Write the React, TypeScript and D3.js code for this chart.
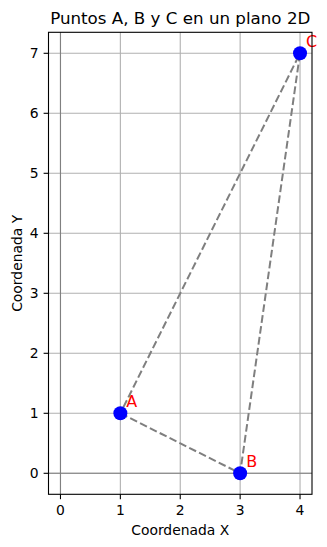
import React from "react";
import * as d3 from "d3";

const labels = ["A", "B", "C"];
const xs = [1, 3, 4];
const ys = [1, 0, 7];
const xTicks = [0, 1, 2, 3, 4];
const yTicks = [0, 1, 2, 3, 4, 5, 6, 7];

const W = 327, H = 547;
const L = 48.5, R = 312, T = 32.3, B = 494.3;
const font = "DejaVu Sans, sans-serif";

export default function App() {
  const x = d3.scaleLinear().domain([-0.2, 4.2]).range([L, R]);
  const y = d3.scaleLinear().domain([-0.35, 7.35]).range([B, T]);
  const pts = labels.map((l, i) => ({ l, x: xs[i], y: ys[i] }));
  const poly = d3.line<{ x: number; y: number }>().x(d => x(d.x)).y(d => y(d.y));
  const closed = [...pts, pts[0]];
  return (
    <svg width={W} height={H} style={{ position: "absolute", left: 0, top: 0 }} fontFamily={font}>
      <rect x={0} y={0} width={W} height={H} fill="#fff" />
      {xTicks.map(t => (
        <line key={"gx" + t} x1={x(t)} x2={x(t)} y1={T} y2={B} stroke="#b0b0b0" strokeWidth={1.1} />
      ))}
      {yTicks.map(t => (
        <line key={"gy" + t} x1={L} x2={R} y1={y(t)} y2={y(t)} stroke="#b0b0b0" strokeWidth={1.1} />
      ))}
      <line x1={L} x2={R} y1={y(0)} y2={y(0)} stroke="#808080" strokeWidth={1.1} />
      <line x1={x(0)} x2={x(0)} y1={T} y2={B} stroke="#808080" strokeWidth={1.1} />
      <path d={poly(closed) || ""} fill="none" stroke="#7f7f7f" strokeWidth={2} strokeDasharray="7.7,3.3" />
      {pts.map(p => (
        <circle key={p.l} cx={x(p.x)} cy={y(p.y)} r={7} fill="#0000ff" />
      ))}
      {pts.map(p => (
        <text key={"t" + p.l} x={x(p.x + 0.1)} y={y(p.y + 0.1)} fill="#ff0000" fontSize={16}>{p.l}</text>
      ))}
      <rect x={L} y={T} width={R - L} height={B - T} fill="none" stroke="#000" strokeWidth={1.1} />
      {xTicks.map(t => (
        <g key={"tx" + t}>
          <line x1={x(t)} x2={x(t)} y1={B} y2={B + 4.9} stroke="#000" strokeWidth={1.1} />
          <text x={x(t)} y={B + 9.8} dy="0.76em" textAnchor="middle" fontSize={13.9}>{t}</text>
        </g>
      ))}
      {yTicks.map(t => (
        <g key={"ty" + t}>
          <line x1={L - 4.9} x2={L} y1={y(t)} y2={y(t)} stroke="#000" strokeWidth={1.1} />
          <text x={L - 9.8} y={y(t)} dy="0.36em" textAnchor="end" fontSize={13.9}>{t}</text>
        </g>
      ))}
      <text x={(L + R) / 2} y={535} textAnchor="middle" fontSize={13.9}>Coordenada X</text>
      <text transform={`translate(22,${(T + B) / 2}) rotate(-90)`} textAnchor="middle" fontSize={13.9}>Coordenada Y</text>
      <text x={(L + R) / 2} y={24} textAnchor="middle" fontSize={16.7}>Puntos A, B y C en un plano 2D</text>
    </svg>
  );
}
